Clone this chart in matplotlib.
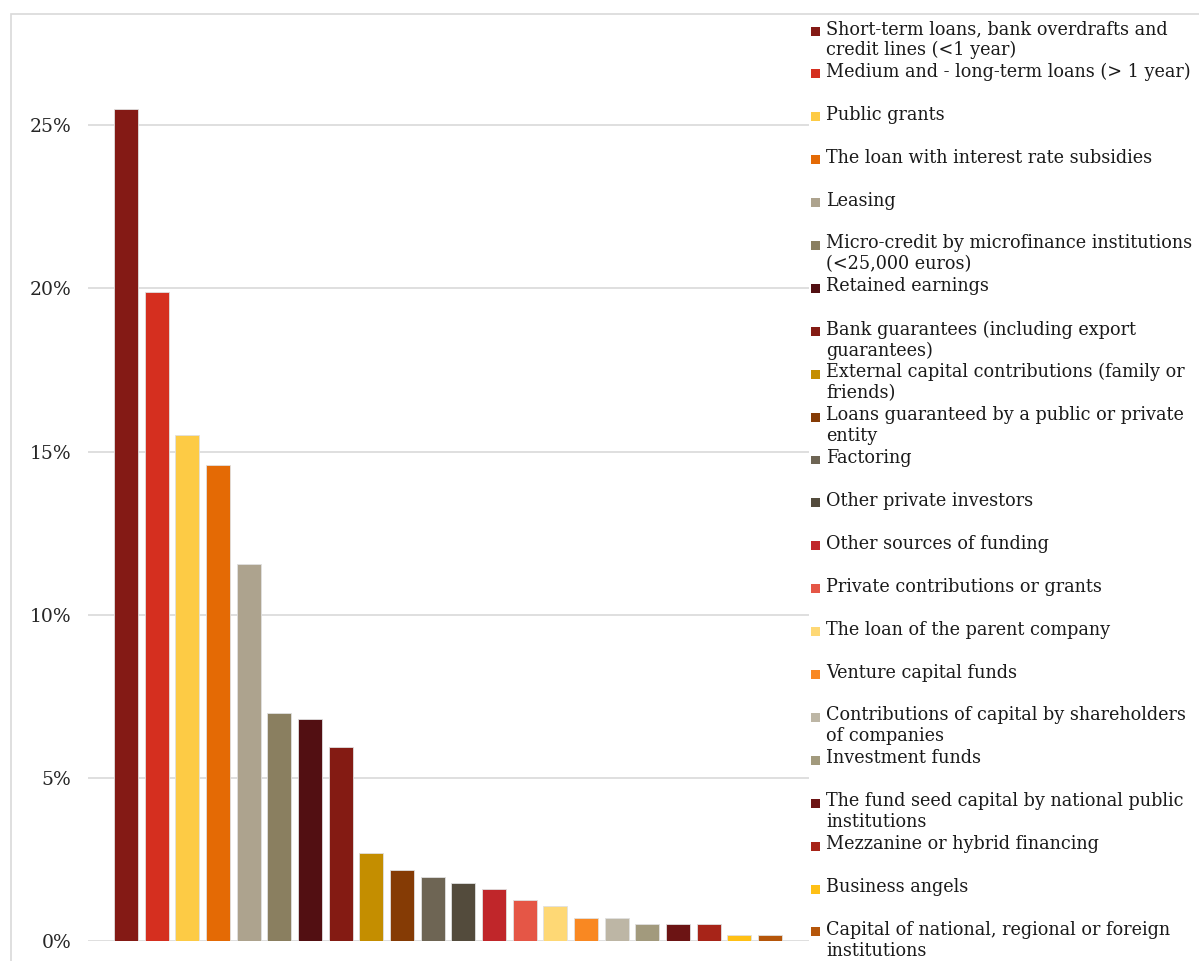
import matplotlib
matplotlib.use("Agg")
import matplotlib.pyplot as plt
import matplotlib.patches as patches
from matplotlib.ticker import PercentFormatter

# Sources of financing, sorted by share of firms
categories = [
    "Short-term loans, bank overdrafts and\ncredit lines (<1 year)",
    "Medium and - long-term loans (> 1 year)",
    "Public grants",
    "The loan with interest rate subsidies",
    "Leasing",
    "Micro-credit by microfinance institutions\n(<25,000 euros)",
    "Retained earnings",
    "Bank guarantees (including export\nguarantees)",
    "External capital contributions (family or\nfriends)",
    "Loans guaranteed by a public or private\nentity",
    "Factoring",
    "Other private investors",
    "Other sources of funding",
    "Private contributions or grants",
    "The loan of the parent company",
    "Venture capital funds",
    "Contributions of capital by shareholders\nof companies",
    "Investment funds",
    "The fund seed capital by national public\ninstitutions",
    "Mezzanine or hybrid financing",
    "Business angels",
    "Capital of national, regional or foreign\ninstitutions",
]
shares = [25.5, 19.9, 15.5, 14.6, 11.55, 7.0, 6.8, 5.95, 2.7, 2.18, 1.97, 1.78,
          1.6, 1.26, 1.07, 0.7, 0.7, 0.52, 0.52, 0.52, 0.18, 0.18]
colors = ["#841A15", "#D52F1F", "#FDCB45", "#E46A05", "#ADA38E", "#8A7F60",
          "#520F12", "#841B13", "#C48E00", "#853B05", "#6E6554", "#534B3C",
          "#C0262A", "#E55646", "#FED875", "#F98822", "#BDB6A5", "#A29A7D",
          "#6C1414", "#A72418", "#FFC015", "#B5560A"]
yticks = [0, 5, 10, 15, 20, 25]

W, H = 1199, 961
fig = plt.figure(figsize=(W / 100, H / 100), dpi=100)
fig.patch.set_facecolor("white")

# outer chart border
fig.patches.append(patches.Rectangle((11 / W, -0.01), 1.0, 1 - 14 / H + 0.01,
                                     transform=fig.transFigure, fill=False,
                                     edgecolor="#d9d9d9", linewidth=1.2))

ax = fig.add_axes([88 / W, 20 / H, (809 - 88) / W, (941 - 60) / H])
x = list(range(len(shares)))
ax.bar(x, shares, width=0.78, color=colors, edgecolor="#e0e0e0", linewidth=0.6, zorder=2)

ax.set_xlim(-1.24, 22.27)
ax.set_ylim(0, 27)
ax.set_yticks(yticks)
ax.yaxis.set_major_formatter(PercentFormatter(decimals=0))
ax.set_xticks([])
ax.grid(axis="y", color="#d9d9d9", linewidth=1.2, zorder=0)
ax.tick_params(axis="y", length=0, pad=12, labelsize=13.5, labelcolor="#262626")
for lbl in ax.get_yticklabels():
    lbl.set_family("DejaVu Serif")
for s in ax.spines.values():
    s.set_visible(False)

# legend drawn as an evenly spaced list on the right
top_y, step = 31, 42.9
for i, (lab, col) in enumerate(zip(categories, colors)):
    yc = top_y + i * step
    fig.patches.append(patches.Rectangle((811 / W, 1 - (yc + 4.5) / H), 9 / W, 9 / H,
                                         transform=fig.transFigure, facecolor=col,
                                         edgecolor="none"))
    fig.text(826 / W, 1 - (yc - 11) / H, lab, ha="left", va="top",
             fontsize=12.7, family="DejaVu Serif", color="#1a1a1a", linespacing=1.2)

fig.savefig("out.png", dpi=100)
